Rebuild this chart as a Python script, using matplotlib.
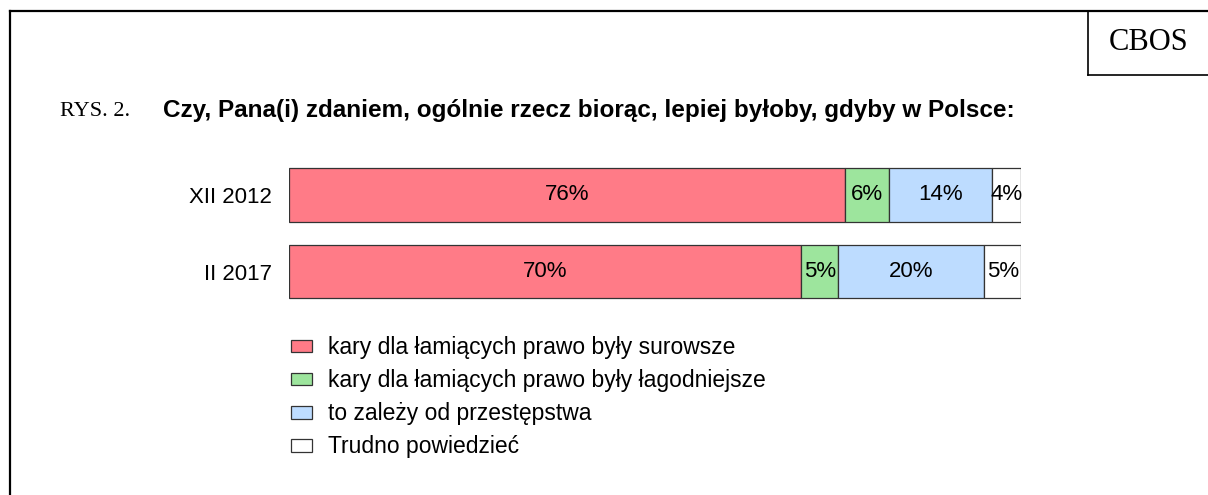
import matplotlib.pyplot as plt
from matplotlib.lines import Line2D
from matplotlib.patches import Patch

# data
periods = ["XII 2012", "II 2017"]
answers = [
    "kary dla łamiących prawo były surowsze",
    "kary dla łamiących prawo były łagodniejsze",
    "to zależy od przestępstwa",
    "Trudno powiedzieć",
]
surowsze = [76, 70]
lagodniejsze = [6, 5]
zalezy = [14, 20]
trudno = [4, 5]
colors = ["#FF7B87", "#9DE59D", "#BDDCFF", "#FFFFFF"]

W, H = 1208, 495
fig = plt.figure(figsize=(W / 100, H / 100), dpi=100)
plt.rcParams["font.family"] = ["Liberation Sans", "DejaVu Sans"]

# frame around the figure (cut at right/bottom like the original scan)
fig.add_artist(Line2D([10 / W, 1], [1 - 11 / H, 1 - 11 / H], color="black", lw=1.6))
fig.add_artist(Line2D([10 / W, 10 / W], [0, 1 - 11 / H], color="black", lw=1.6))
# CBOS box
fig.add_artist(Line2D([1088 / W, 1088 / W], [1 - 75 / H, 1 - 11 / H], color="black", lw=1.2))
fig.add_artist(Line2D([1088 / W, 1], [1 - 75 / H, 1 - 75 / H], color="black", lw=1.2))
fig.text(1149 / W, 1 - 43 / H, "CBOS", family="Liberation Serif", fontsize=22,
         ha="center", va="center")

fig.text(60 / W, 1 - 111 / H, "RYS. 2.", family="Liberation Serif", fontsize=16,
         ha="left", va="center")
fig.text(163 / W, 1 - 111 / H,
         "Czy, Pana(i) zdaniem, ogólnie rzecz biorąc, lepiej byłoby, gdyby w Polsce:",
         fontsize=17.5, fontweight="bold", ha="left", va="center")

ax = fig.add_axes([289 / W, 1 - 309.75 / H, 732 / W, 153 / H])
series = [surowsze, lagodniejsze, zalezy, trudno]
left = [0, 0]
for vals, col in zip(series, colors):
    ax.barh(range(len(periods)), vals, left=left, height=0.7, color=col,
            edgecolor="#333333", linewidth=0.9)
    for i, v in enumerate(vals):
        ax.text(left[i] + v / 2, i, f"{v}%", ha="center", va="center", fontsize=16)
    left = [l + v for l, v in zip(left, vals)]

ax.set_xlim(0, 100)
ax.set_ylim(1.5, -0.5)
ax.set_yticks(range(len(periods)))
ax.set_yticklabels(periods, fontsize=16)
ax.tick_params(axis="y", length=0, pad=12)
ax.set_xticks([])
for s in ax.spines.values():
    s.set_visible(False)

handles = [Patch(facecolor=c, edgecolor="#333333", linewidth=0.9) for c in colors]
fig.legend(handles, answers, loc="upper left", bbox_to_anchor=(282 / W, 1 - 327 / H),
           frameon=False, fontsize=16.5, handlelength=0.92, handleheight=0.48,
           handletextpad=0.7, labelspacing=0.44, borderaxespad=0)

fig.savefig("out.png", dpi=100)
